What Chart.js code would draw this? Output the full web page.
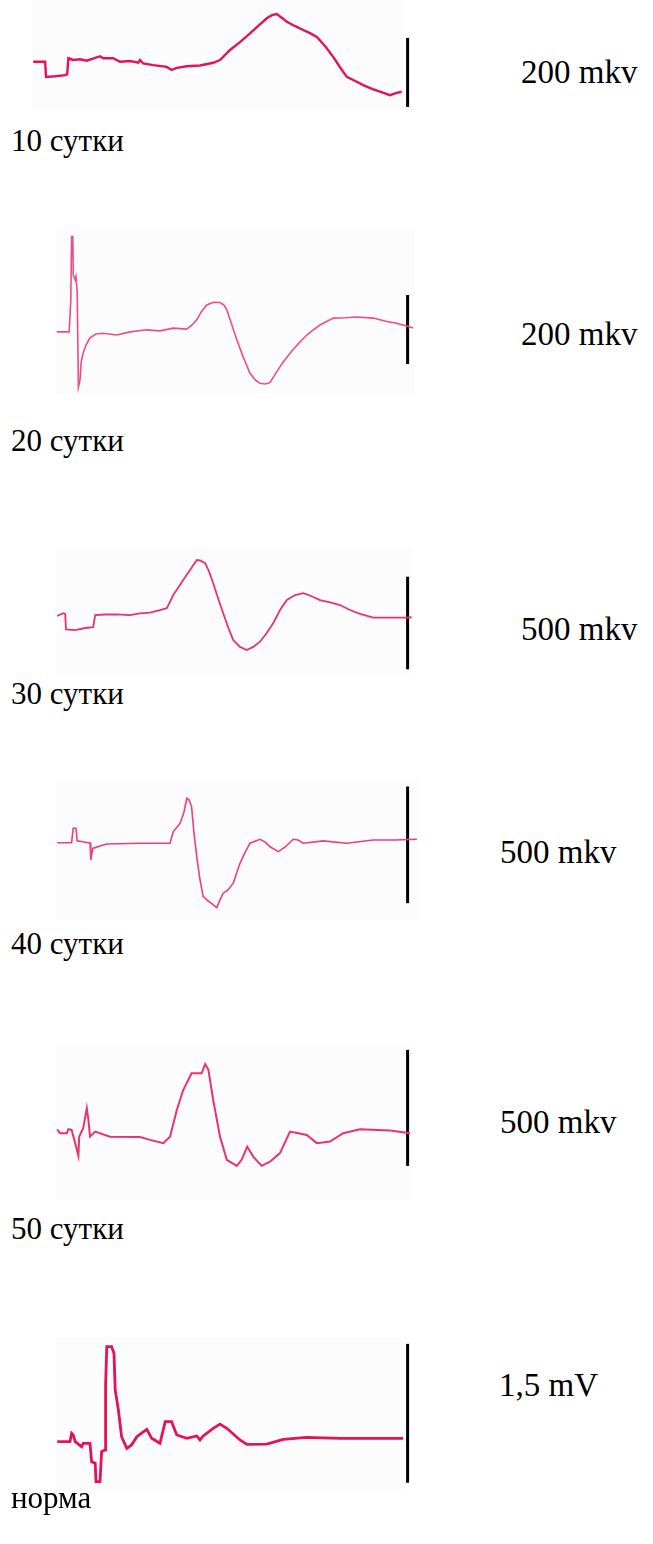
<!DOCTYPE html>
<html>
<head>
<meta charset="utf-8">
<script src="https://cdn.jsdelivr.net/npm/chart.js@4/dist/chart.umd.min.js"></script>
<style>
  html, body { margin: 0; padding: 0; background: #ffffff; }
  body { width: 653px; height: 1544px; position: relative; overflow: hidden;
         font-family: "Liberation Serif", "Times New Roman", serif; color: #000; }
  canvas { position: absolute; left: 30px; }
  .lbl { position: absolute; line-height: 1; white-space: nowrap; }
  .cal { font-size: 33px; }
  .day { font-size: 31px; }
</style>
</head>
<body>
<script>
// Evoked potential traces: time in ms, amplitude in microvolts (mkv)

// 10 days
const t10 = [0.8,3.8,4.0,6.3,8.8,9.3,9.6,10.8,12.5,14.2,17.5,18.3,20.8,22.5,25,27.1,27.5,28.3,30.8,34.2,35.4,36.7,39.2,42.5,45.8,47.5,50,52.5,55,57,59.2,60.5,61.7,63,64.2,66.3,68.3,70,71.7,73.8,75.8,77.5,79.2,81.3,83.3,85.5,87.5,90,91.5,92.9];
const v10 = [1,1,-43,-41,-38,-35,11,6,8,4,17,11,11,1,3,-2,6,-4,-9,-14,-23,-17,-12,-10,-2,6,35,58,83,104,127,136,139,128,117,104,93,84,73,46,15,-15,-43,-55,-67,-78,-86,-96,-90,-86];

// 20 days
const t20 = [6.7,9.8,10.2,10.4,10.7,10.8,11.3,11.5,11.8,12.1,12.5,12.8,13.3,14,15,16.5,18.3,21.7,25,29.2,32.5,35.8,39.2,40.5,41.7,42.8,44.2,45.8,47.5,48.5,49.2,50.3,51.7,53.3,55,56.3,57.5,58.8,60,61.7,63.3,65,67,69.2,70.8,72.5,75.8,78.8,81.7,85.8,89.2,91.3,93.3,95.8];
const v20 = [0,0,93,276,276,165,151,160,116,-160,-139,-87,-61,-38,-17,-6,-4,-9,0,6,3,11,8,20,35,58,78,86,85,78,64,26,-23,-73,-120,-139,-149,-151,-147,-115,-87,-62,-35,-9,6,20,40,41,43,40,30,26,20,11];

// 30 days
const t30 = [6.8,8.3,8.8,9,11.3,13.8,15.8,16.3,18.8,21.7,25,27.5,30,32.5,34.2,35,35.8,37,38.3,40,41.7,42.5,43.8,44.8,45.8,47,48.3,49.5,50.8,52.5,54.2,55.8,57.5,59,60.8,62.5,64.2,66.3,68.3,70.3,72.5,75,77.5,80,82.5,85.8,90,94.2,95.4];
const v30 = [0,15,11,-72,-76,-65,-61,5,8,9,5,14,18,32,42,76,113,151,194,248,302,300,285,238,177,97,15,-59,-130,-167,-184,-167,-139,-97,-39,32,86,113,123,108,86,73,59,32,11,-9,-9,-9,-7];

// 40 days
const t40 = [6.8,10.4,10.8,11.5,11.8,14.6,15,15.2,15.7,17.5,19.2,27.5,35,35.8,37.5,38.5,39.2,39.8,40.4,41,41.8,42.5,43.3,44.5,45.5,46.7,47.5,48.3,49.5,50.8,52.5,53.8,55,57.5,58.8,60,62.1,63.8,65.8,67,68.3,73.3,79.2,85.8,91.3,96.7];
const v40 = [1,1,63,63,9,1,0,-73,-23,-13,-4,-1,-1,48,84,133,191,184,155,42,-73,-158,-230,-248,-261,-277,-244,-215,-201,-172,-87,-39,-1,16,4,-16,-37,-17,16,13,-1,9,-1,13,13,16];

// 50 days
const t50 = [6.8,7.5,9.2,9.6,10.4,11.3,12.1,12.3,13.3,14.2,14.6,15,16.3,20,27.5,30,33.3,35,36.7,38.3,40.4,42.9,43.8,44.6,45.8,47.5,49.2,51.7,52.9,54.3,55.8,57.9,60,62.5,65,69.2,71.7,75,78.3,82.5,90,95];
const v50 = [3,-14,-14,3,0,-57,-112,-29,7,94,43,-29,-7,-29,-31,-43,-57,-29,86,172,244,244,284,259,129,-29,-129,-155,-129,-72,-115,-155,-137,-100,-7,-22,-57,-50,-14,3,-3,-14];

// norm
const tNorm = [6.8,10,10.4,10.8,11.3,12.9,13.3,15,15.4,16.3,16.5,17.5,17.9,18.8,18.9,19.2,20.4,21,21.3,22.1,22.9,24.2,25.4,26.7,29.2,30.4,32.5,33.8,35.4,36.7,39.2,41.7,42.5,43.3,45.8,47.5,49.2,52.5,54.2,59.2,63.3,69.2,77.5,93.3];
const vNorm = [3,3,94,76,3,-51,-14,-14,-213,-230,-429,-429,-105,-86,616,1029,1029,958,562,346,57,-68,-32,57,137,40,-14,219,219,76,40,65,22,65,148,194,148,22,-25,-22,29,50,40,40];

// Calibration bar heights (mkv) and captions
const calValues = [200, 200, 500, 500, 500, 1500];
const calLabels = ["200 mkv", "200 mkv", "500 mkv", "500 mkv", "500 mkv", "1,5 mV"];
const calBase = [-130, -93, -288, -258, -155, -440];
const dayLabels = ["10 сутки", "20 сутки", "30 сутки", "40 сутки", "50 сутки", "норма"];
const CAL_TIME = 94.4;

const traces = [[t10, v10], [t20, v20], [t30, v30], [t40, v40], [t50, v50], [tNorm, vNorm]];

// Page layout for each panel
const panels = [
  { top: 0,    height: 110, yMin: -139, yMax: 180,  color: '#e3125a', width: 2.4 },
  { top: 228,  height: 165, yMin: -177, yMax: 301,  color: '#ef4c84', width: 1.6 },
  { top: 548,  height: 125, yMin: -308, yMax: 367,  color: '#e9336c', width: 1.8 },
  { top: 780,  height: 140, yMin: -330, yMax: 270,  color: '#ee3f76', width: 1.6 },
  { top: 1045, height: 155, yMin: -302, yMax: 366,  color: '#e9336c', width: 2.0 },
  { top: 1337, height: 155, yMin: -540, yMax: 1134, color: '#e3125a', width: 2.8 }
];
const calText = [
  { left: 521, top: 56 }, { left: 521, top: 318 }, { left: 521, top: 613 },
  { left: 500, top: 836 }, { left: 500, top: 1106 }, { left: 499, top: 1369 }
];
const dayText = [125, 425, 678, 928, 1213, 1482];

// faint paper tone behind each trace
const panelTone = {
  id: 'panelTone',
  beforeDatasetsDraw(chart) {
    const { ctx, chartArea, scales } = chart;
    const d = chart.data.datasets[0].data;
    const x0 = scales.x.getPixelForValue(d[0].x) - 1;
    const x1 = scales.x.getPixelForValue(d[d.length - 1].x) + 2;
    ctx.save();
    ctx.fillStyle = '#fcfcfc';
    ctx.fillRect(x0, chartArea.top, x1 - x0, chartArea.bottom - chartArea.top);
    ctx.restore();
  }
};

panels.forEach((p, i) => {
  const cv = document.createElement('canvas');
  cv.width = 400; cv.height = p.height;
  cv.style.top = p.top + 'px';
  cv.style.width = '400px'; cv.style.height = p.height + 'px';
  document.body.appendChild(cv);

  const [ts, vs] = traces[i];
  const pts = ts.map((t, k) => ({ x: t, y: vs[k] }));
  const bar = [{ x: CAL_TIME, y: calBase[i] }, { x: CAL_TIME, y: calBase[i] + calValues[i] }];

  new Chart(cv, {
    type: 'line',
    data: {
      datasets: [
        { data: pts, borderColor: p.color, borderWidth: p.width, pointRadius: 0, tension: 0, fill: false, clip: false },
        { data: bar, borderColor: '#000000', borderWidth: 3, pointRadius: 0, fill: false, clip: false }
      ]
    },
    options: {
      responsive: false, animation: false, devicePixelRatio: 1,
      layout: { padding: 0 },
      plugins: { legend: { display: false }, tooltip: { enabled: false } },
      scales: {
        x: { type: 'linear', min: 0, max: 100, display: false },
        y: { type: 'linear', min: p.yMin, max: p.yMax, display: false }
      }
    },
    plugins: [panelTone]
  });

  const c = document.createElement('div');
  c.className = 'lbl cal';
  c.textContent = calLabels[i];
  c.style.left = calText[i].left + 'px';
  c.style.top = calText[i].top + 'px';
  document.body.appendChild(c);

  const d = document.createElement('div');
  d.className = 'lbl day';
  d.textContent = dayLabels[i];
  d.style.left = '11px';
  d.style.top = dayText[i] + 'px';
  document.body.appendChild(d);
});
</script>
</body>
</html>
